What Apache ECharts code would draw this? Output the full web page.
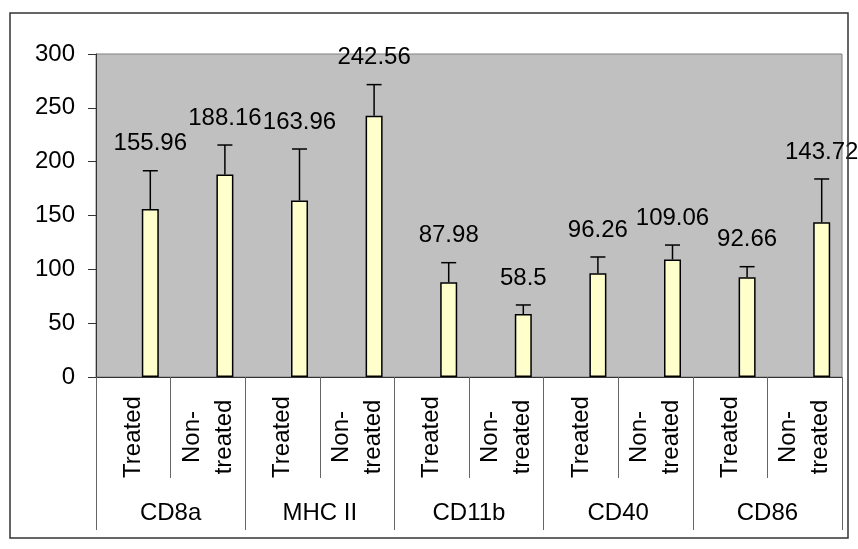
<!DOCTYPE html>
<html>
<head>
<meta charset="utf-8">
<script src="https://cdn.jsdelivr.net/npm/echarts@6/dist/echarts.min.js"></script>
<style>html,body{margin:0;padding:0;background:#fff}#c{width:858px;height:549px}</style>
</head>
<body>
<div id="c"></div>
<script>
const groups = ['CD8a', 'MHC II', 'CD11b', 'CD40', 'CD86'];
const conditions = ['Treated', 'Non-\ntreated', 'Treated', 'Non-\ntreated', 'Treated', 'Non-\ntreated', 'Treated', 'Non-\ntreated', 'Treated', 'Non-\ntreated'];
const values = [155.96, 188.16, 163.96, 242.56, 87.98, 58.5, 96.26, 109.06, 92.66, 143.72];
const errors = [35.6, 27.3, 47.8, 29.0, 18.2, 8.4, 15.2, 13.5, 9.8, 40.2];
const yTicks = [0, 50, 100, 150, 200, 250, 300];

const FONT = 'Liberation Sans, Arial, sans-serif';
const FS = 24;
const BAR_W = 17;
const OFFSET = 17;

const chart = echarts.init(document.getElementById('c'), null, {renderer: 'canvas'});
chart.setOption({
  animation: false,
  backgroundColor: '#ffffff',
  grid: {left: 96, right: 16, top: 54, bottom: 172, show: true, backgroundColor: '#C0C0C0', borderColor: '#808080', borderWidth: 1},
  graphic: [{type: 'rect', shape: {x: 10, y: 13, width: 838, height: 525}, style: {fill: null, stroke: '#333', lineWidth: 1.5}, z: 100}],
  xAxis: [{
    type: 'category', data: conditions, position: 'bottom', boundaryGap: true,
    axisLine: {show: true, lineStyle: {color: '#333', width: 1}},
    axisTick: {show: true, length: 101, lineStyle: {color: '#666', width: 1}},
    axisLabel: {interval: 0, rotate: 90, align: 'center', verticalAlign: 'middle', margin: 60, lineHeight: 32, fontSize: FS, fontFamily: FONT, color: '#000'},
    splitLine: {show: false}
  }, {
    type: 'category', data: groups, position: 'bottom', boundaryGap: true,
    axisLine: {show: false},
    axisTick: {show: true, length: 153, lineStyle: {color: '#666', width: 1}},
    axisLabel: {interval: 0, verticalAlign: 'middle', margin: 136, fontSize: FS, fontFamily: FONT, color: '#000'},
    splitLine: {show: false}
  }],
  yAxis: {
    type: 'value', min: 0, max: 300, interval: 50,
    axisLine: {show: true, lineStyle: {color: '#333', width: 1}},
    axisTick: {show: true, length: 8, lineStyle: {color: '#333'}},
    axisLabel: {margin: 21, fontSize: FS, fontFamily: FONT, color: '#000',
      formatter: v => yTicks.indexOf(v) >= 0 ? String(v) : ''},
    splitLine: {show: false}
  },
  series: [
    {type: 'bar', name: 'pad1', data: [], barWidth: BAR_W, barGap: '0%', silent: true},
    {type: 'bar', name: 'pad2', data: [], barWidth: BAR_W, barGap: '0%', silent: true},
    {type: 'bar', name: 'value', data: values, barWidth: BAR_W, barGap: '0%',
      itemStyle: {color: '#FFFFCC', borderColor: '#000', borderWidth: 1.5}},
    {type: 'custom', name: 'error',
      data: values.map((v, i) => [i, v, errors[i]]),
      encode: {x: 0, y: 1},
      z: 5,
      renderItem: function (params, api) {
        const i = api.value(0), v = api.value(1), e = api.value(2);
        const base = api.coord([i, v]);
        const top = api.coord([i, v + e]);
        const cx = base[0] + OFFSET;
        return {type: 'group', children: [
          {type: 'line', shape: {x1: cx, y1: base[1], x2: cx, y2: top[1]}, style: {stroke: '#000', lineWidth: 1.5}},
          {type: 'line', shape: {x1: cx - 7.5, y1: top[1], x2: cx + 7.5, y2: top[1]}, style: {stroke: '#000', lineWidth: 1.5}},
          {type: 'text', x: cx, y: top[1] - 27, style: {text: String(v), fill: '#000', fontSize: FS, fontFamily: FONT, align: 'center', verticalAlign: 'middle'}}
        ]};
      }
    }
  ]
});
</script>
</body>
</html>
